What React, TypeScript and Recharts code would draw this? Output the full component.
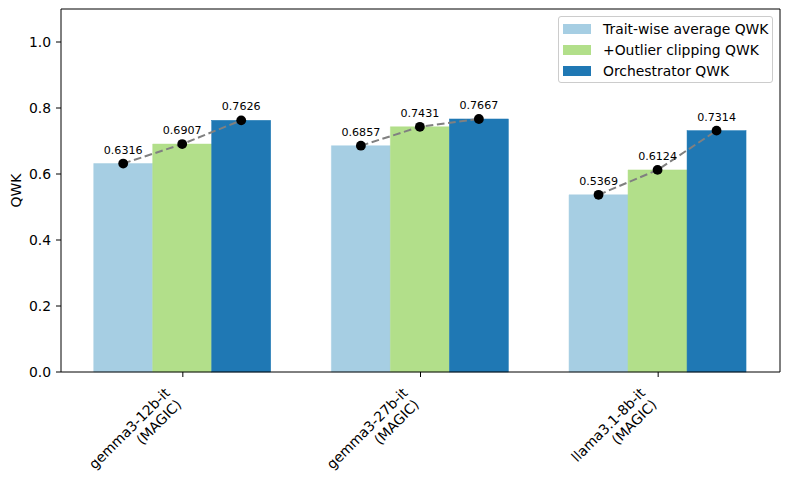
import React from "react";
import { BarChart, Bar, XAxis, YAxis, Legend, CartesianGrid } from "recharts";

const models = ["gemma3-12b-it", "gemma3-27b-it", "llama3.1-8b-it"];
const datasetTag = "(MAGIC)";
const traitwiseQwk = [0.6316, 0.6857, 0.5369];
const clippingQwk = [0.6907, 0.7431, 0.6124];
const orchestratorQwk = [0.7626, 0.7667, 0.7314];
const yTicks = [0, 0.2, 0.4, 0.6, 0.8, 1.0];

const seriesNames = ["Trait-wise average QWK", "+Outlier clipping QWK", "Orchestrator QWK"];
const seriesColors = ["#a6cee3", "#b2df8a", "#1f78b4"];

const data = models.map((model, i) => ({
  model,
  traitwise: traitwiseQwk[i],
  clipping: clippingQwk[i],
  orchestrator: orchestratorQwk[i],
}));

const FONT = "DejaVu Sans";

// last bar of each group also draws the dashed connector, dots and value labels
function OrchestratorShape(props: any) {
  const { x, y, width, height, fill, payload } = props;
  const vals = [payload.traitwise, payload.clipping, payload.orchestrator];
  const base = y + height;
  const k = height / payload.orchestrator;
  const pts = vals.map((v: number, j: number) => ({
    cx: x + width / 2 - (2 - j) * width,
    cy: base - v * k,
    v,
  }));
  return (
    <g>
      <rect x={x} y={y} width={width} height={height} fill={fill} stroke={fill} strokeWidth={0.5} />
      <polyline
        points={pts.map((p) => `${p.cx},${p.cy}`).join(" ")}
        fill="none"
        stroke="#808080"
        strokeWidth={2}
        strokeDasharray="7.7 3.6"
      />
      {pts.map((p, j) => (
        <circle key={"c" + j} cx={p.cx} cy={p.cy} r={4.9} fill="#000" />
      ))}
      {pts.map((p, j) => (
        <text
          key={"t" + j}
          x={p.cx}
          y={p.cy - 10}
          textAnchor="middle"
          fontSize={11.1}
          fontFamily={FONT}
          fill="#000"
        >
          {p.v.toFixed(4)}
        </text>
      ))}
    </g>
  );
}

function ModelTick({ x, y, payload }: any) {
  return (
    <g transform={`translate(${x - 12},${y + 15})`}>
      <text transform="rotate(-45)" textAnchor="end" fontSize={13.9} fontFamily={FONT} fill="#000">
        <tspan x={0} dy={0}>{payload.value}</tspan>
        <tspan x={0} dy={16.2}>{datasetTag}</tspan>
      </text>
    </g>
  );
}

function LegendBox() {
  return (
    <div
      style={{
        width: 215,
        height: 67,
        boxSizing: "border-box",
        border: "1px solid #cccccc",
        borderRadius: 3,
        background: "rgba(255,255,255,0.8)",
        paddingTop: 1,
        fontFamily: FONT,
        fontSize: 13.9,
        color: "#000",
      }}
    >
      {seriesNames.map((name, i) => (
        <div key={name} style={{ display: "flex", alignItems: "center", height: 21 }}>
          <span
            style={{
              display: "inline-block",
              width: 28,
              height: 10,
              marginLeft: 4,
              marginRight: 12,
              background: seriesColors[i],
            }}
          />
          <span style={{ whiteSpace: "nowrap" }}>{name}</span>
        </div>
      ))}
    </div>
  );
}

export default function App() {
  return (
    <div style={{ position: "absolute", left: 0, top: 0, width: 790, height: 489, background: "#fff" }}>
      <BarChart
        width={790}
        height={489}
        data={data}
        margin={{ top: 9, right: 10, bottom: 0, left: 0 }}
        barCategoryGap="12.5%"
        barGap={0}
      >
        {/* top and right spines of the axes frame */}
        <CartesianGrid
          stroke="#000"
          horizontalCoordinatesGenerator={({ offset }: any) => [offset.top]}
          verticalCoordinatesGenerator={({ offset }: any) => [offset.left + offset.width]}
        />
        <XAxis
          dataKey="model"
          height={117}
          padding={{ left: 3, right: 3 }}
          interval={0}
          tick={<ModelTick />}
          tickSize={5}
          tickLine={{ stroke: "#000" }}
          axisLine={{ stroke: "#000" }}
        />
        <YAxis
          width={61}
          domain={[0, 1.1]}
          ticks={yTicks}
          tickFormatter={(v: number) => v.toFixed(1)}
          tick={{ fill: "#000", fontSize: 13.9, fontFamily: FONT }}
          tickSize={5}
          tickMargin={5}
          tickLine={{ stroke: "#000" }}
          axisLine={{ stroke: "#000" }}
          label={{
            content: () => (
              <text
                x={16}
                y={190.5}
                transform="rotate(-90 16 190.5)"
                textAnchor="middle"
                dominantBaseline="central"
                fontSize={13.9}
                fontFamily={FONT}
                fill="#000"
              >
                QWK
              </text>
            ),
          }}
        />
        <Bar
          dataKey="traitwise"
          name={seriesNames[0]}
          fill={seriesColors[0]}
          stroke={seriesColors[0]}
          strokeWidth={0.5}
          isAnimationActive={false}
        />
        <Bar
          dataKey="clipping"
          name={seriesNames[1]}
          fill={seriesColors[1]}
          stroke={seriesColors[1]}
          strokeWidth={0.5}
          isAnimationActive={false}
        />
        <Bar
          dataKey="orchestrator"
          name={seriesNames[2]}
          fill={seriesColors[2]}
          shape={OrchestratorShape}
          isAnimationActive={false}
        />
        <Legend
          content={<LegendBox />}
          layout="vertical"
          align="center"
          verticalAlign="middle"
          wrapperStyle={{ top: 16, left: 558, width: 215, right: "auto", bottom: "auto" }}
        />
      </BarChart>
    </div>
  );
}
